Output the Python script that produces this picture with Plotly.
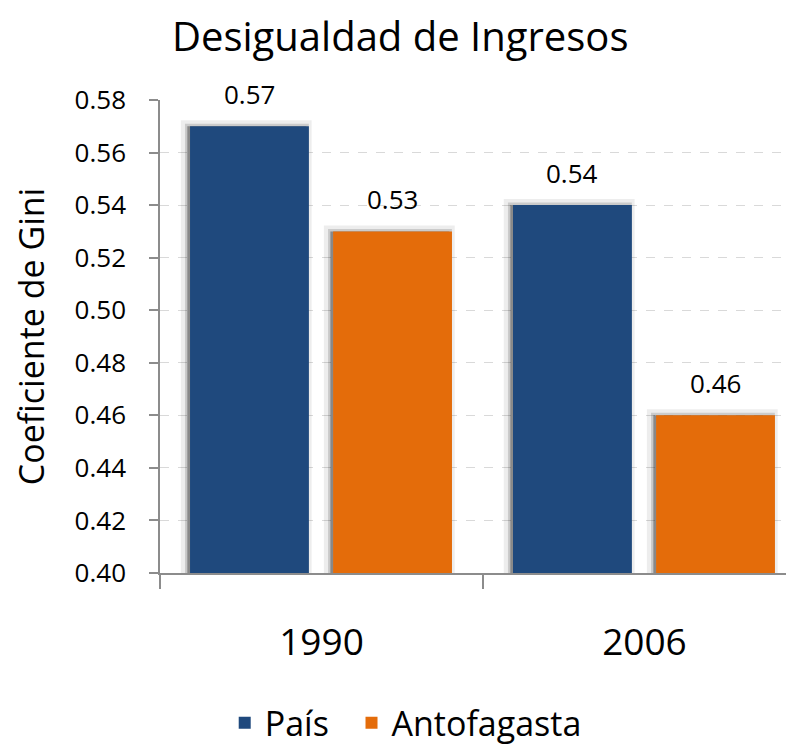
import plotly.graph_objects as go

categories = ["1990", "2006"]
pais = [0.57, 0.54]
antofagasta = [0.53, 0.46]
series_names = ["País", "Antofagasta"]
y_ticks = [0.40, 0.42, 0.44, 0.46, 0.48, 0.50, 0.52, 0.54, 0.56, 0.58]

FONT = "Open Sans"
BLUE = "#1F497D"
ORANGE = "#E46C0A"
BAR_W = 0.368
OFFSETS = [-0.407, 0.036]

fig = go.Figure()

series = [(series_names[0], pais, BLUE), (series_names[1], antofagasta, ORANGE)]

# soft shadows behind bars
for (name, vals, col), off in zip(series, OFFSETS):
    fig.add_trace(go.Bar(
        x=categories, y=vals, showlegend=False, hoverinfo="skip",
        marker=dict(color="rgba(0,0,0,0.10)", line=dict(width=12, color="rgba(0,0,0,0.07)")),
        width=BAR_W, offset=off - 0.010,
    ))
    fig.add_trace(go.Bar(
        x=categories, y=vals, showlegend=False, hoverinfo="skip",
        marker=dict(color="rgba(0,0,0,0.25)", line=dict(width=5, color="rgba(0,0,0,0.14)")),
        width=BAR_W, offset=off - 0.008,
    ))

pad = "\u00a0\u00a0"
for (name, vals, col), off in zip(series, OFFSETS):
    fig.add_trace(go.Bar(
        x=categories, y=vals, name=name + (pad if name == series_names[0] else ""),
        marker=dict(color=col, line=dict(width=0)),
        width=BAR_W, offset=off,
    ))

# value labels
for (name, vals, col), off in zip(series, OFFSETS):
    for j, v in enumerate(vals):
        fig.add_annotation(
            x=j + off + BAR_W / 2, y=v, xref="x", yref="y",
            text=f"{v:.2f}", showarrow=False, yanchor="bottom", yshift=12,
            font=dict(family=FONT, size=26, color="#000000"),
        )

fig.update_layout(
    width=786, height=738,
    margin=dict(l=152, r=0, t=92, b=173, autoexpand=False),
    paper_bgcolor="white", plot_bgcolor="white",
    barmode="overlay",
    font=dict(family=FONT, color="#000000"),
    title=dict(text="Desigualdad de Ingresos", x=0.499, xanchor="center",
               y=0.980, yanchor="top", yref="container", pad=dict(t=0, b=0),
               font=dict(family=FONT, size=40, color="#000000")),
    showlegend=True,
    legend=dict(orientation="h", xref="container", yref="container",
                x=0.506, xanchor="center", y=0.031, yanchor="middle",
                font=dict(family=FONT, size=34, color="#000000"),
                traceorder="normal"),
)

fig.update_xaxes(
    type="category", range=[-0.5, 1.463], automargin=False,
    showline=True, linecolor="#8c8c8c", linewidth=1.5,
    ticks="outside", tickson="boundaries", ticklen=14, tickcolor="#8c8c8c", tickwidth=1.5,
    tickfont=dict(family=FONT, size=37, color="#000000"),
    ticklabelstandoff=36,
    showgrid=False, zeroline=False,
)
fig.update_yaxes(
    range=[0.40, 0.58], automargin=False,
    tickvals=y_ticks, ticktext=[f"{v:.2f}" for v in y_ticks],
    showline=True, linecolor="#8c8c8c", linewidth=1.5,
    ticks="outside", ticklen=9, tickcolor="#8c8c8c", tickwidth=1.5,
    tickfont=dict(family=FONT, size=26, color="#000000"),
    ticklabelstandoff=18,
    showgrid=True, gridcolor="#d9d9d9", griddash="dash", gridwidth=1,
    zeroline=False,
    title=dict(text="Coeficiente de Gini", font=dict(family=FONT, size=34, color="#000000"), standoff=24),
)

fig.write_html("out.html")
